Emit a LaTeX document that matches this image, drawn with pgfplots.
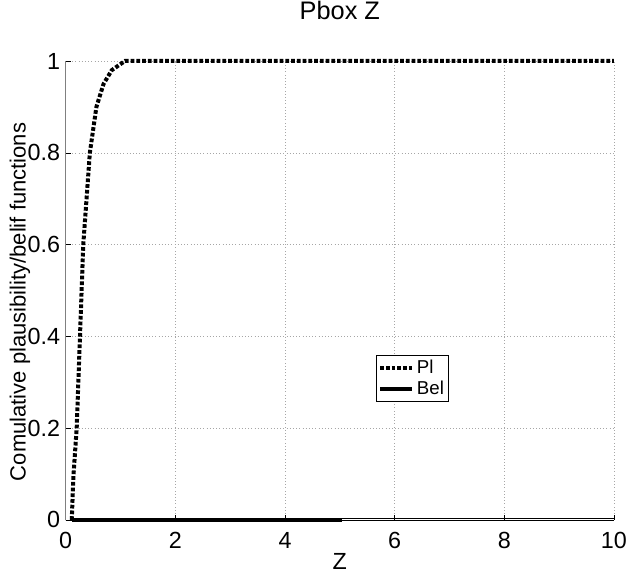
\documentclass[border=0pt]{standalone}
\usepackage{fontspec}
\setmainfont{Liberation Sans}
\usepackage{pgfplots}
\pgfplotsset{compat=1.18}
\begin{document}
\begin{tikzpicture}
\begin{axis}[
  at={(0,0)}, anchor=south west,
  scale only axis,
  width=411.2pt, height=344.25pt,
  xmin=0, xmax=10, ymin=0, ymax=1,
  axis x line=bottom, axis y line=left,
  axis line style={-},
  y axis line style={gray},
  x axis line style={black},
  xtick={0,2,4,6,8,10}, xticklabels={0,2,4,6,8,10},
  ytick={0,0.2,0.4,0.6,0.8,1}, yticklabels={0,0.2,0.4,0.6,0.8,1},
  tick align=inside, major tick length=4pt,
  tick style={black, thin},
  grid=major,
  grid style={dotted, gray!70, thin},
  ticklabel style={font=\fontsize{17.5}{20}\selectfont, inner sep=0pt},
  xticklabel style={anchor=north, yshift=-9pt},
  yticklabel style={anchor=east, xshift=-4pt},
  title={Pbox Z},
  title style={font=\fontsize{19}{22}\selectfont, at={(0.5,1)}, anchor=base, yshift=25pt, inner sep=0pt},
  xlabel={Z},
  xlabel style={font=\fontsize{17.5}{20}\selectfont, at={(axis description cs:0.5,0)}, anchor=base, yshift=-37.5pt, inner sep=0pt},
  ylabel={Comulative plausibility/belif functions},
  ylabel style={font=\fontsize{16.5}{18}\selectfont, at={(axis description cs:-0.0834,0.475)}, anchor=center, inner sep=0pt},
  clip=false,
  legend style={at={(axis description cs:0.566,0.359)}, anchor=north west,
    font=\fontsize{14}{15}\selectfont, draw=black, thin, fill=white,
    inner sep=1.5pt, row sep=0pt},
  legend cell align=left,
  legend image code/.code={\draw[#1] (0pt,0pt) -- (24pt,0pt);},
]
\addplot[black, line width=3pt, dash pattern=on 2.8pt off 1.5pt] coordinates {
(0.11,0) (0.14,0.095) (0.2,0.2) (0.26,0.4) (0.32,0.6) (0.38,0.7) (0.44,0.8)
(0.56,0.9) (0.69,0.95) (0.84,0.98) (1.08,1) (10,1)
};
\addlegendentry{Pl}
\addplot[black, line width=3pt] coordinates {
(0.11,0) (5.04,0)
};
\addlegendentry{Bel}
\addplot[black, line width=0.8pt, forget plot] coordinates {
(5.04,0.004) (10,0.004)
};
\end{axis}
\pgfresetboundingbox
\path[use as bounding box] (-49.3pt,-42pt) rectangle (421pt,390pt);
\end{tikzpicture}
\end{document}
